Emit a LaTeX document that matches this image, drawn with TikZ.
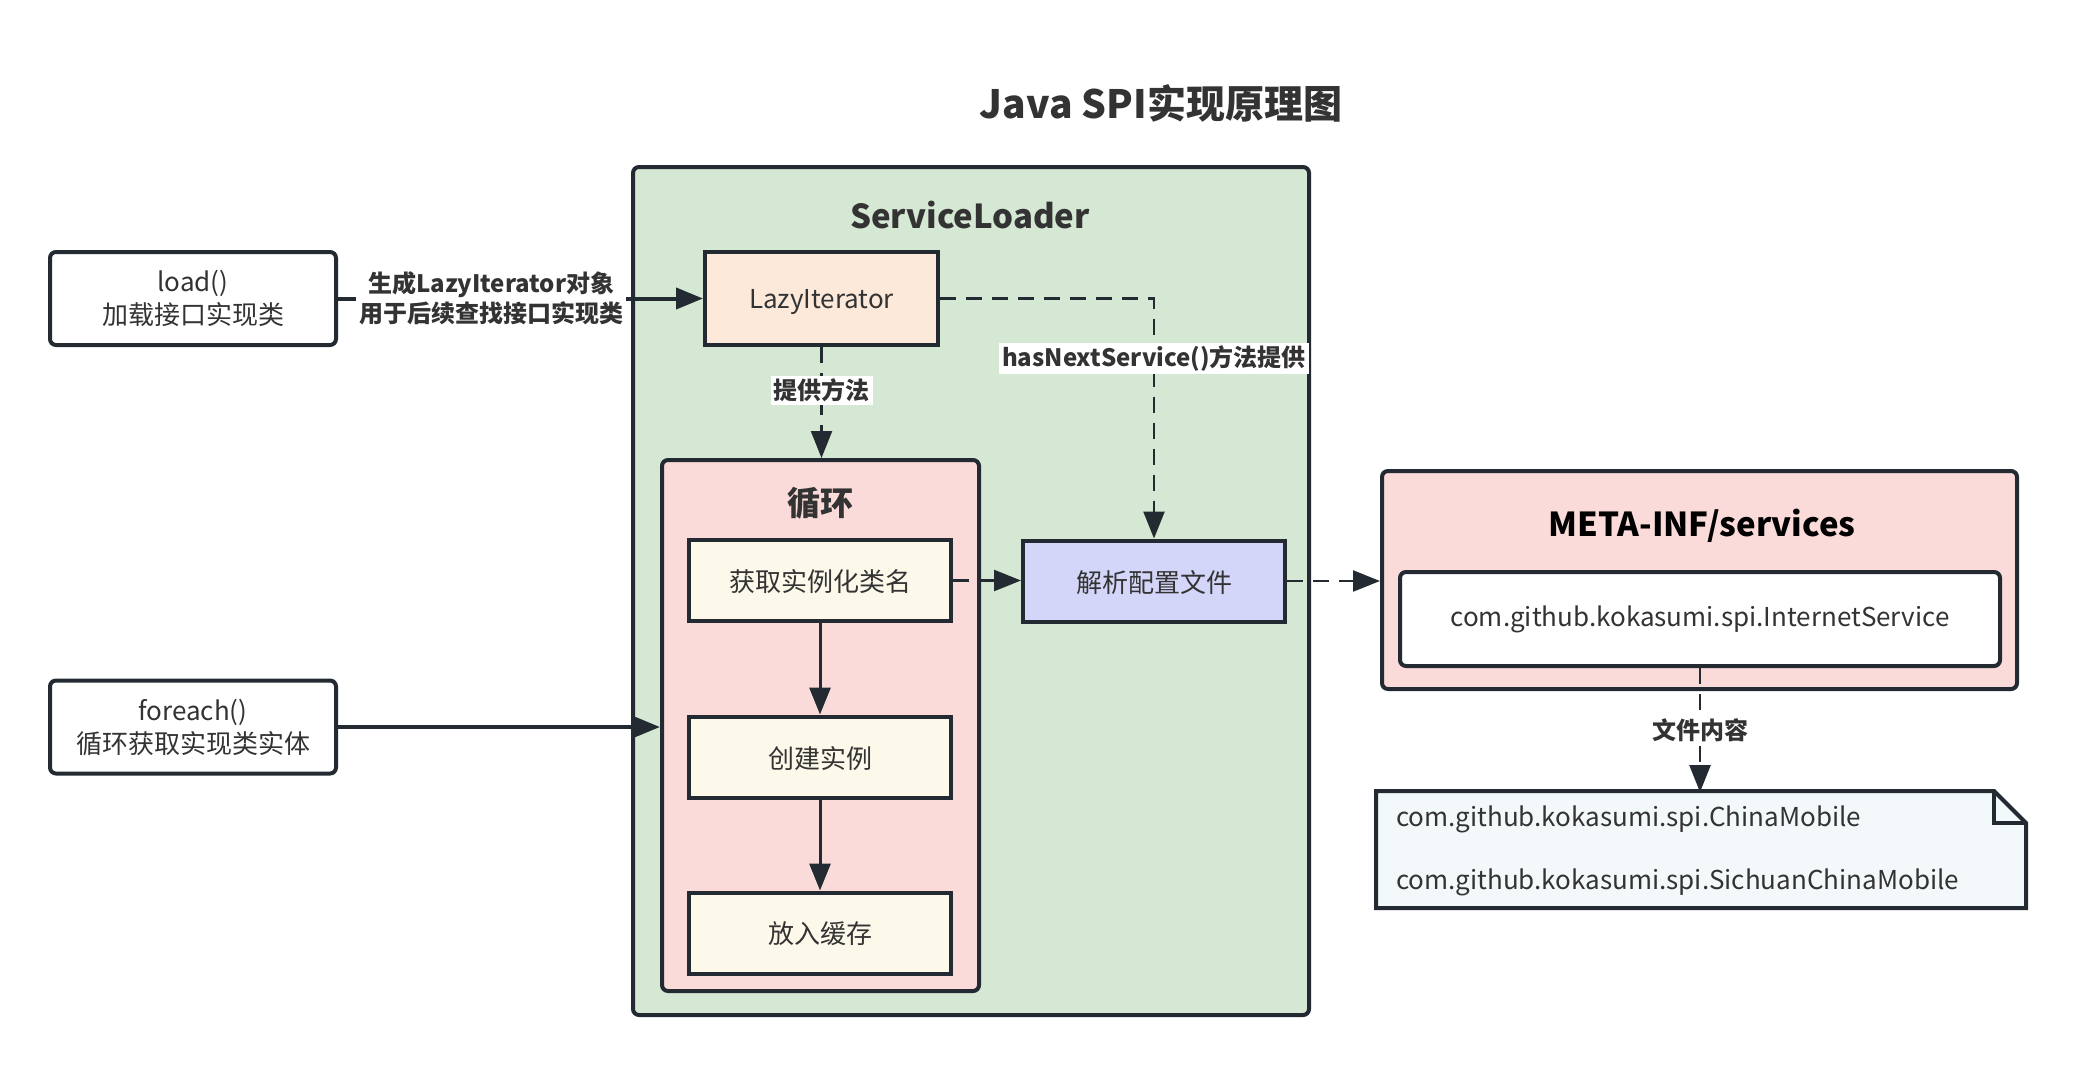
\documentclass[tikz,border=0pt]{standalone}
\usepackage{fontspec}
\setmainfont{Noto Sans CJK SC}
\usetikzlibrary{arrows.meta,positioning}

\definecolor{linec}{HTML}{232A31}
\definecolor{textc}{HTML}{333333}
\definecolor{slgreen}{HTML}{D5E8D4}
\definecolor{peach}{HTML}{FCE9DA}
\definecolor{pinkc}{HTML}{FADBDA}
\definecolor{cream}{HTML}{FCF8EA}
\definecolor{lav}{HTML}{D3D6F8}
\definecolor{notec}{HTML}{F3F9FA}

\tikzset{
  box/.style={draw=linec, line width=2pt, text=textc, align=center,
    font=\fontsize{13}{16.5}\selectfont},
  outer/.style={box, rounded corners=3pt, fill=white},
  container/.style={draw=linec, line width=2pt, rounded corners=3pt},
  stepbox/.style={box, fill=cream, text depth=0pt, minimum width=131pt, minimum height=40.5pt},
  ctitle/.style={text=textc, font=\fontsize{16.5}{20}\selectfont\bfseries},
  elabel/.style={fill=white, text=textc, inner sep=1.5pt, align=center,
    font=\fontsize{12}{15}\selectfont\bfseries},
  bigarrow/.style={draw=linec, line width=2pt, -{Triangle[length=13.5pt,width=10.5pt]}},
  flow/.style={draw=linec, line width=1.5pt, -{Triangle[length=13.5pt,width=10.5pt]}},
  dashflow/.style={flow, line width=1.2pt, dash pattern=on 8pt off 5pt}
}

\begin{document}
\begin{tikzpicture}[x=0.5pt,y=-0.5pt]
  \useasboundingbox (0,0) rectangle (2075,1065);

  \node[text=textc, font=\fontsize{19.5}{22}\selectfont\bfseries] (ttl) at (1161,103) {Java SPI实现原理图};

  % containers
  \node[container, fill=slgreen, minimum width=338pt, minimum height=424pt] (sl) at (971,591) {};
  \node[ctitle] (slname) at (970,215) {ServiceLoader};
  \node[container, fill=pinkc, minimum width=158.5pt, minimum height=265.5pt] (loop) at (820.5,725.5) {};
  \node[ctitle] (loopname) at (820,503) {循环};
  \node[container, fill=pinkc, minimum width=317.5pt, minimum height=109pt] (meta) at (1699.5,580) {};
  \node[ctitle, text=black] (metaname) at (1702,526) {META-INF/services};
  \node[outer, minimum width=300pt, minimum height=47pt] (inner) at (1700,619) {com.github.kokasumi.spi.InternetService};

  % left side calls
  \node[outer, minimum width=143pt, minimum height=46.5pt] (load) at (193,298.5) {load()\\加载接口实现类};
  \node[outer, minimum width=143pt, minimum height=46.5pt] (foreach) at (193,727) {foreach()\\循环获取实现类实体};

  % steps
  \node[box, fill=peach, text depth=0pt, minimum width=116.5pt, minimum height=46.5pt] (lazy) at (821.5,298.5) {LazyIterator};
  \node[stepbox] (get) at (820,580.5) {获取实例化类名};
  \node[stepbox] (create) at (820,757) {创建实例};
  \node[stepbox] (cache) at (820,933) {放入缓存};
  \node[stepbox, fill=lav] (parse) at (1154,581) {解析配置文件};

  % file content note
  \draw[draw=linec, line width=2pt, fill=notec] (1376,791) -- (1994,791) -- (2026,823) -- (2026,908) -- (1376,908) -- cycle;
  \draw[draw=linec, line width=2pt] (1994,791) -- (1994,823) -- (2026,823);
  \node[text=textc, minimum width=325pt, minimum height=58.5pt, text width=305pt, inner xsep=10pt,
    align=left, font=\fontsize{13}{31.5}\selectfont] (note) at (1701,851)
    {com.github.kokasumi.spi.ChinaMobile\\com.github.kokasumi.spi.SichuanChinaMobile};

  % connectors
  \draw[bigarrow] (load) -- node[elabel, pos=0.42] {生成LazyIterator对象\\用于后续查找接口实现类} (lazy);
  \draw[bigarrow] (foreach) -- (foreach -| loop.west);
  \draw[dashflow] (lazy.south) -- node[elabel, pos=0.39] {提供方法} (lazy.south |- loop.north);
  \draw[dashflow] (lazy.east) -| node[elabel, pos=0.625] {hasNextService()方法提供} (parse.north);
  \draw[dashflow] (get.east) -- (get.east -| parse.west);
  \draw[dashflow] (parse.east) -- (parse.east -| meta.west);
  \draw[dashflow] (inner.south) -- node[elabel] {文件内容} (inner.south |- note.north);
  \draw[flow] (get) -- (create);
  \draw[flow] (create) -- (cache);
\end{tikzpicture}
\end{document}
